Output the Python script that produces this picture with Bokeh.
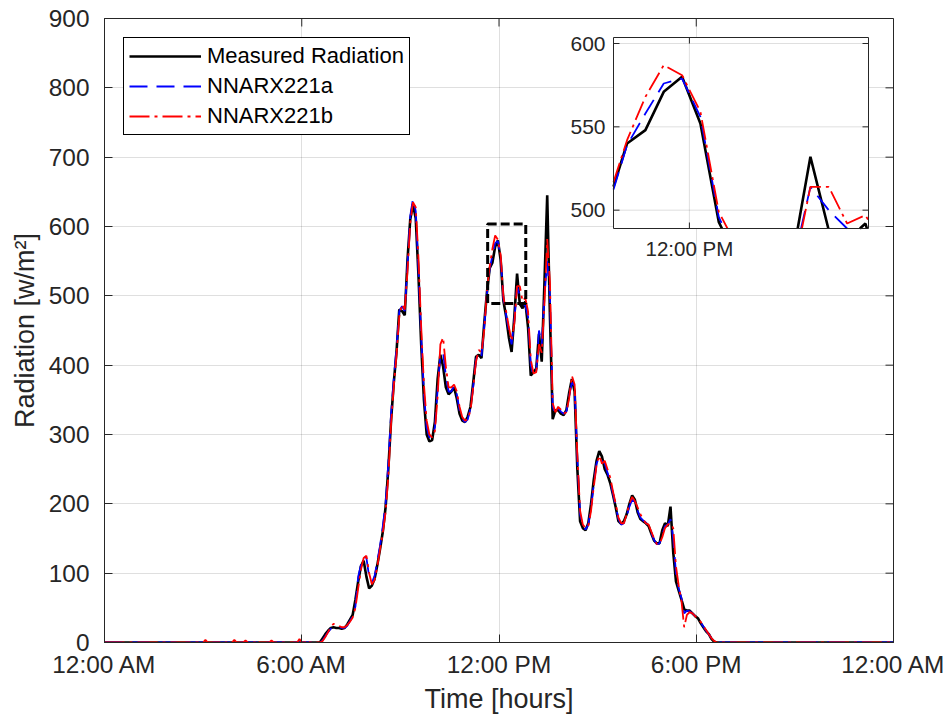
import numpy as np
from bokeh.plotting import figure
from bokeh.models import Range1d, FixedTicker, Legend, LegendItem
from bokeh.embed import file_html
from bokeh.resources import INLINE
from bokeh.core.properties import value

# ---------------- data ----------------
# daytime samples every 5 minutes, first sample at 06:33
day_start_hour = 6 + 33 / 60
step_minutes = 5

measured = [0, 6, 12, 17, 21, 22, 21, 21, 20, 21, 26, 33, 40, 62, 88, 110, 118, 95, 78, 82,
            92, 112, 135, 160, 195, 250, 320, 375, 420, 480, 478, 472, 552, 610, 632, 612, 530, 430, 350, 300,
            290, 292, 318, 380, 415, 398, 368, 358, 362, 368, 352, 330, 320, 318, 326, 340, 375, 412, 415, 410,
            460, 505, 540, 548, 571, 580, 552, 493, 470, 440, 419, 470, 532, 488, 482, 492, 455, 385, 390, 395,
            445, 405, 520, 645, 470, 322, 335, 335, 330, 328, 335, 360, 380, 362, 250, 175, 165, 162, 172, 200,
            235, 262, 276, 268, 250, 242, 230, 213, 195, 175, 171, 175, 185, 200, 212, 206, 188, 178, 175, 172,
            168, 157, 147, 143, 143, 162, 172, 168, 196, 130, 88, 75, 62, 48, 46, 46, 42, 38, 35, 28,
            22, 16, 12, 5, 1, 0]

nnarx221a = [0, 3, 9, 15, 20, 23, 23, 22, 21, 21, 24, 31, 38, 52, 95, 112, 124, 122, 95, 86,
             96, 118, 140, 168, 200, 258, 330, 380, 425, 478, 485, 478, 545, 615, 640, 622, 540, 440, 360, 310,
             296, 296, 310, 365, 415, 418, 385, 362, 362, 370, 358, 335, 322, 318, 322, 338, 370, 408, 418, 412,
             455, 503, 539, 558, 576, 579, 556, 496, 472, 450, 430, 465, 514, 500, 489, 486, 470, 400, 385, 392,
             450, 430, 500, 550, 500, 340, 330, 338, 333, 330, 333, 355, 375, 370, 265, 185, 168, 163, 170, 195,
             228, 258, 268, 262, 258, 245, 232, 215, 197, 178, 170, 172, 182, 196, 206, 203, 190, 180, 176, 173,
             168, 158, 148, 142, 143, 155, 168, 170, 178, 150, 100, 78, 64, 42, 46, 45, 42, 38, 35, 29,
             23, 17, 12, 6, 2, 0]

nnarx221b = [0, 2, 8, 15, 22, 27, 26, 24, 22, 22, 25, 30, 36, 50, 78, 105, 122, 125, 100, 84,
             90, 110, 135, 158, 188, 240, 315, 370, 415, 470, 488, 480, 535, 605, 635, 628, 555, 455, 372, 320,
             300, 296, 305, 355, 430, 440, 398, 368, 368, 372, 362, 340, 325, 320, 322, 335, 368, 405, 422, 418,
             450, 508, 542, 568, 587, 581, 559, 499, 478, 455, 435, 460, 514, 514, 492, 497, 478, 408, 388, 390,
             430, 418, 490, 582, 520, 345, 332, 340, 336, 330, 332, 352, 385, 372, 270, 190, 170, 165, 168, 190,
             225, 255, 270, 258, 262, 250, 238, 218, 200, 180, 172, 172, 185, 200, 210, 204, 195, 185, 178, 172,
             170, 160, 150, 142, 142, 152, 165, 170, 172, 165, 110, 82, 60, 22, 40, 44, 42, 38, 34, 30,
             24, 18, 12, 6, 2, 0]

# small night-time wiggles of model b (hours, value)
night_b_hours = [0.0, 3.0, 3.07, 3.14, 3.52, 3.59, 3.66, 3.88, 3.95, 4.02, 4.22, 4.29, 4.36,
                 4.58, 4.65, 4.72, 5.01, 5.08, 5.15, 5.86, 5.93, 6.0, 6.1, 6.17, 6.24]
night_b_vals = [0, 0, 4, 0, 0, 3, 0, 0, 4, 0, 0, 3, 0,
                0, 4, 0, 0, 3, 0, 0, 5, 0, 0, 4, 0]

x_ticks = [0, 6, 12, 18, 24]
x_tick_labels = ["12:00 AM", "6:00 AM", "12:00 PM", "6:00 PM", "12:00 AM"]
y_ticks = [0, 100, 200, 300, 400, 500, 600, 700, 800, 900]

inset_x_range = (11.655, 12.814)
inset_y_range = (489.0, 603.6)
inset_x_ticks = [12]
inset_x_tick_labels = ["12:00 PM"]
inset_y_ticks = [500, 550, 600]

# ---------------- series assembly ----------------
t_day = day_start_hour + np.arange(len(measured)) * step_minutes / 60.0
t_m = [0.0] + list(t_day) + [24.0]
y_m = [0] + measured + [0]
t_a = [0.0] + list(t_day) + [24.0]
y_a = [0] + nnarx221a + [0]
t_b = night_b_hours + list(t_day) + [24.0]
y_b = night_b_vals + nnarx221b + [0]

# ---------------- layout constants (pixels) ----------------
FRAME_L, FRAME_R, FRAME_T, FRAME_B = 104, 893, 18, 642
INSET_L, INSET_R, INSET_T, INSET_B = 613, 868, 37, 228
X0, X1, Y0, Y1 = 0, 24, 0, 900

FONT = "Liberation Sans"
TXT = "#262626"

p = figure(frame_width=FRAME_R - FRAME_L, frame_height=FRAME_B - FRAME_T,
           x_range=Range1d(X0, X1), y_range=Range1d(Y0, Y1),
           output_backend="svg", toolbar_location=None,
           min_border_left=FRAME_L, min_border_right=949 - FRAME_R,
           min_border_top=FRAME_T, min_border_bottom=718 - FRAME_B,
           background_fill_color="white", border_fill_color="white")
p.outline_line_color = TXT
p.outline_line_width = 1

p.xaxis.ticker = FixedTicker(ticks=x_ticks)
p.xaxis.major_label_overrides = {k: v for k, v in zip(x_ticks, x_tick_labels)}
p.yaxis.ticker = FixedTicker(ticks=y_ticks)
for ax in (p.xaxis[0], p.yaxis[0]):
    ax.major_tick_in = 8
    ax.major_tick_out = 0
    ax.minor_tick_line_color = None
    ax.axis_line_color = TXT
    ax.major_tick_line_color = TXT
    ax.major_label_text_font = FONT
    ax.major_label_text_font_size = "24.4px"
    ax.major_label_text_color = TXT
    ax.axis_label_text_font = FONT
    ax.axis_label_text_font_size = "27px"
    ax.axis_label_text_font_style = "normal"
    ax.axis_label_text_color = TXT
p.xaxis.axis_label = "Time [hours]"
p.yaxis.axis_label = "Radiation [w/m\u00b2]"
p.xaxis.major_label_standoff = 8
p.xaxis.axis_label_standoff = 3
p.yaxis.major_label_standoff = 15
p.yaxis.axis_label_standoff = 6

p.grid.grid_line_color = TXT
p.grid.grid_line_alpha = 0.15
p.xgrid.ticker = FixedTicker(ticks=x_ticks)
p.ygrid.ticker = FixedTicker(ticks=y_ticks)

# ticks on the top and right edges of the box (inside)
TICK = 8
px_x = (FRAME_R - FRAME_L) / (X1 - X0)
px_y = (FRAME_B - FRAME_T) / (Y1 - Y0)
bx = [[t, t] for t in x_ticks] + [[X1, X1 - TICK / px_x] for _ in y_ticks]
by = [[Y1, Y1 - TICK / px_y] for _ in x_ticks] + [[v, v] for v in y_ticks]
p.multi_line(bx, by, line_color=TXT, line_width=1)

# main series
r_m = p.line(t_m, y_m, color="black", line_width=2.6)
r_a = p.line(t_a, y_a, color="blue", line_width=1.8, line_dash="18 9")
r_b = p.line(t_b, y_b, color="red", line_width=1.8, line_dash="20 5 3 5")

# zoom rectangle
p.quad(left=[inset_x_range[0]], right=[inset_x_range[1]], bottom=[inset_y_range[0]], top=[inset_y_range[1]],
       fill_color=None, line_color="black", line_width=3, line_dash="9 4")

# legend
legend = Legend(items=[LegendItem(label="Measured Radiation", renderers=[r_m]),
                       LegendItem(label="NNARX221a", renderers=[r_a]),
                       LegendItem(label="NNARX221b", renderers=[r_b])],
                location="top_left", margin=19, padding=5, spacing=4,
                glyph_width=72, glyph_height=20, label_height=20, label_standoff=6,
                label_text_font=FONT, label_text_font_size="22px", label_text_color="black",
                border_line_color="black", border_line_width=1, border_line_alpha=1,
                background_fill_color="white", background_fill_alpha=1)
p.add_layout(legend)

# ---------------- inset via extra ranges ----------------
ix0, ix1 = inset_x_range
iy0, iy1 = inset_y_range
sx = (INSET_R - INSET_L) / (ix1 - ix0)
sy = (INSET_B - INSET_T) / (iy1 - iy0)
p.extra_x_ranges = {"ix": Range1d(ix0 - (INSET_L - FRAME_L) / sx, ix1 + (FRAME_R - INSET_R) / sx)}
p.extra_y_ranges = {"iy": Range1d(iy0 - (FRAME_B - INSET_B) / sy, iy1 + (INSET_T - FRAME_T) / sy)}
kw = dict(x_range_name="ix", y_range_name="iy")

p.quad(left=[ix0], right=[ix1], bottom=[iy0], top=[iy1], fill_color="white", line_color=None, **kw)

# inset grid
gx = [[t, t] for t in inset_x_ticks] + [[ix0, ix1] for _ in inset_y_ticks]
gy = [[iy0, iy1] for _ in inset_x_ticks] + [[v, v] for v in inset_y_ticks]
p.multi_line(gx, gy, line_color=TXT, line_alpha=0.15, line_width=1, **kw)


def clip(xs, ys, x0, x1, y0, y1):
    out_x, out_y = [], []
    cx, cy = [], []
    for i in range(len(xs) - 1):
        ax_, ay_, bx_, by_ = xs[i], ys[i], xs[i + 1], ys[i + 1]
        dx, dy = bx_ - ax_, by_ - ay_
        t0, t1, ok = 0.0, 1.0, True
        for pp, qq in ((-dx, ax_ - x0), (dx, x1 - ax_), (-dy, ay_ - y0), (dy, y1 - ay_)):
            if pp == 0:
                if qq < 0:
                    ok = False
                    break
            else:
                r = qq / pp
                if pp < 0:
                    if r > t1:
                        ok = False
                        break
                    t0 = max(t0, r)
                else:
                    if r < t0:
                        ok = False
                        break
                    t1 = min(t1, r)
        if not ok:
            if cx:
                out_x.append(cx); out_y.append(cy); cx, cy = [], []
            continue
        p0 = (ax_ + t0 * dx, ay_ + t0 * dy)
        p1 = (ax_ + t1 * dx, ay_ + t1 * dy)
        if cx and t0 == 0.0:
            cx.append(p1[0]); cy.append(p1[1])
        else:
            if cx:
                out_x.append(cx); out_y.append(cy)
            cx, cy = [p0[0], p1[0]], [p0[1], p1[1]]
        if t1 < 1.0:
            out_x.append(cx); out_y.append(cy); cx, cy = [], []
    if cx:
        out_x.append(cx); out_y.append(cy)
    return out_x, out_y


for (tt, yy, col, lw, dash) in ((t_m, y_m, "black", 2.6, "solid"),
                                (t_a, y_a, "blue", 1.8, "18 9"),
                                (t_b, y_b, "red", 1.8, "20 5 3 5")):
    cxs, cys = clip(list(tt), list(yy), ix0, ix1, iy0, iy1)
    p.multi_line(cxs, cys, line_color=col, line_width=lw, line_dash=dash, **kw)

# inset box
p.quad(left=[ix0], right=[ix1], bottom=[iy0], top=[iy1], fill_color=None, line_color=TXT, line_width=1, **kw)

# inset ticks (inside, on all four sides)
tl = 6
tx, ty = [], []
for v in inset_y_ticks:
    tx += [[ix0, ix0 + tl / sx], [ix1, ix1 - tl / sx]]
    ty += [[v, v], [v, v]]
for t in inset_x_ticks:
    tx += [[t, t], [t, t]]
    ty += [[iy0, iy0 + tl / sy], [iy1, iy1 - tl / sy]]
p.multi_line(tx, ty, line_color=TXT, line_width=1, **kw)

# inset tick labels
p.text(x=[ix0 - 8 / sx] * len(inset_y_ticks), y=inset_y_ticks, text=[str(v) for v in inset_y_ticks],
       text_align="right", text_baseline="middle", text_font=value(FONT), text_font_size="21px",
       text_color=TXT, **kw)
p.text(x=inset_x_ticks, y=[iy0 - 8 / sy] * len(inset_x_ticks), text=inset_x_tick_labels,
       text_align="center", text_baseline="top", text_font=value(FONT), text_font_size="20.5px",
       text_color=TXT, **kw)

open("out.html", "w").write(file_html(p, INLINE))
